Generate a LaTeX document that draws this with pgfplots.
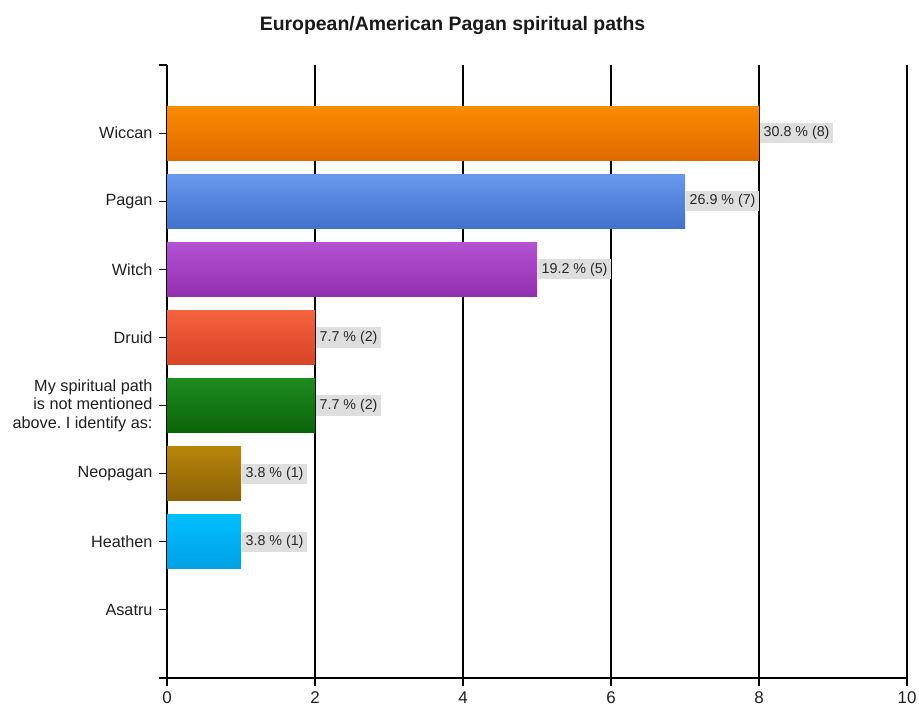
\documentclass[border=0pt]{standalone}
\usepackage{pgfplots}
\pgfplotsset{compat=1.18}
\usepackage{fontspec}
\setmainfont{Liberation Sans}
\frenchspacing
\definecolor{wicT}{HTML}{FA8C00}\definecolor{wicB}{HTML}{DE6A00}
\definecolor{pagT}{HTML}{6699EE}\definecolor{pagB}{HTML}{4371CB}
\definecolor{witT}{HTML}{B452D4}\definecolor{witB}{HTML}{9130AE}
\definecolor{druT}{HTML}{F4623F}\definecolor{druB}{HTML}{D84426}
\definecolor{myT}{HTML}{1F8A1F}\definecolor{myB}{HTML}{0A650A}
\definecolor{neoT}{HTML}{B8860B}\definecolor{neoB}{HTML}{8A6208}
\definecolor{heaT}{HTML}{00BFFF}\definecolor{heaB}{HTML}{00A0E4}
\definecolor{lblbg}{HTML}{DEDEDE}
\begin{document}
\begin{tikzpicture}[x=1bp,y=1bp]
\path[use as bounding box] (0,0) rectangle (919,706);
\node[font=\bfseries\fontsize{19.5}{23}\selectfont, text=black!90] at (452.5,680) {European/American Pagan spiritual paths};
\begin{axis}[
  at={(167bp,28bp)}, anchor=south west,
  scale only axis, width=740bp, height=613bp,
  xmin=0, xmax=10, ymin=0, ymax=9,
  axis x line=bottom, axis y line=left,
  axis line style={-, black, line width=1.1bp},
  xtick={0,2,4,6,8,10},
  ytick={0,1,2,3,4,5,6,7,8,9},
  yticklabels={,Asatru,Heathen,Neopagan,{My spiritual path\\is not mentioned\\above. I identify as:},Druid,Witch,Pagan,Wiccan,},
  yticklabel style={align=right, font=\fontsize{16.3}{18.5}\selectfont, text=black!88, xshift=-3bp},
  xticklabel style={font=\fontsize{17}{19}\selectfont, text=black!88, yshift=-2bp},
  /pgf/number format/assume math mode=true,
  tick align=outside, major tick length=8bp,
  tick style={black, line width=1.1bp},
  xmajorgrids, major grid style={black, line width=1.1bp},
  clip=false,
  every node near coord/.append style={font=\fontsize{14.3}{16}\selectfont, fill=lblbg, inner sep=3.5bp, text=black!85, anchor=west, xshift=1bp},
]
\addplot[xbar, bar width=54bp, bar shift=0pt, draw=none, top color=wicT, bottom color=wicB, nodes near coords, point meta=explicit symbolic] coordinates {(8,8) [{30.8 \% (8)}]};
\addplot[xbar, bar width=54bp, bar shift=0pt, draw=none, top color=pagT, bottom color=pagB, nodes near coords, point meta=explicit symbolic] coordinates {(7,7) [{26.9 \% (7)}]};
\addplot[xbar, bar width=54bp, bar shift=0pt, draw=none, top color=witT, bottom color=witB, nodes near coords, point meta=explicit symbolic] coordinates {(5,6) [{19.2 \% (5)}]};
\addplot[xbar, bar width=54bp, bar shift=0pt, draw=none, top color=druT, bottom color=druB, nodes near coords, point meta=explicit symbolic] coordinates {(2,5) [{7.7 \% (2)}]};
\addplot[xbar, bar width=54bp, bar shift=0pt, draw=none, top color=myT, bottom color=myB, nodes near coords, point meta=explicit symbolic] coordinates {(2,4) [{7.7 \% (2)}]};
\addplot[xbar, bar width=54bp, bar shift=0pt, draw=none, top color=neoT, bottom color=neoB, nodes near coords, point meta=explicit symbolic] coordinates {(1,3) [{3.8 \% (1)}]};
\addplot[xbar, bar width=54bp, bar shift=0pt, draw=none, top color=heaT, bottom color=heaB, nodes near coords, point meta=explicit symbolic] coordinates {(1,2) [{3.8 \% (1)}]};
% Asatru: 0 responses (no bar drawn)
\end{axis}
\end{tikzpicture}
\end{document}
